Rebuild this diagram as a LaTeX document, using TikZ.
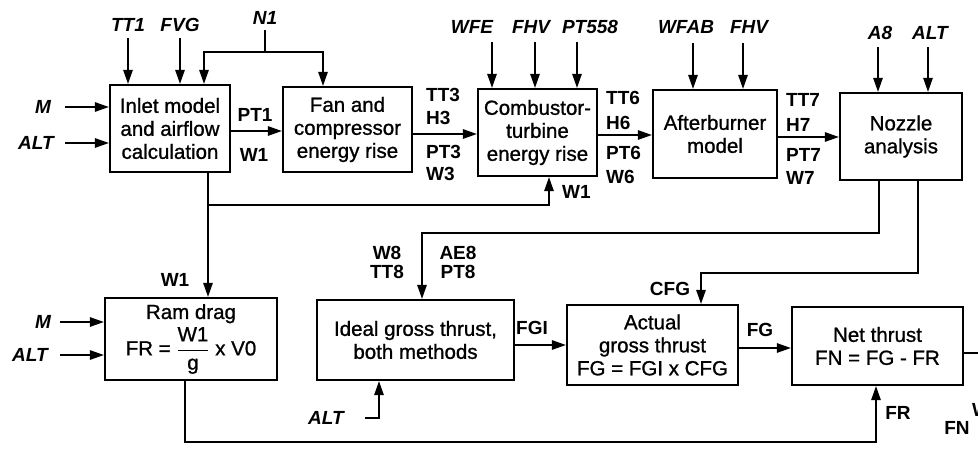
\documentclass[tikz,border=0pt]{standalone}
\usepackage{fontspec}
\setmainfont{Liberation Sans}
\newfontfamily\boxfont[FakeBold=1]{Liberation Sans}
\usetikzlibrary{arrows.meta}
\begin{document}
\begin{tikzpicture}[x=1pt,y=-1pt,
  box/.style={draw, line width=2.3pt, align=center, inner sep=0pt, font=\boxfont\fontsize{20.5}{23}\selectfont},
  lbl/.style={font=\fontsize{19}{20}\selectfont\bfseries, inner sep=0pt},
  ilbl/.style={font=\fontsize{19}{20}\selectfont\bfseries\itshape, inner sep=0pt},
  conn/.style={line width=1.4pt},
  arr/.style={conn, -{Triangle[length=14pt,width=9.5pt]}}]
\useasboundingbox (0,0) rectangle (978,448);
\clip (0,0) rectangle (978,448);

% boxes
\node[box, minimum width=120pt, minimum height=87pt] (inlet) at (170,128.5) {Inlet model\\and airflow\\calculation};
\node[box, minimum width=129pt, minimum height=85pt] (fan) at (347.5,129.5) {Fan and\\compressor\\energy rise};
\node[box, minimum width=119pt, minimum height=87pt] (comb) at (537.5,132.5) {Combustor-\\turbine\\energy rise};
\node[box, minimum width=124pt, minimum height=88pt] (ab) at (715,134) {Afterburner\\model};
\node[box, minimum width=122pt, minimum height=87pt] (noz) at (901,136.5) {Nozzle\\analysis};
\node[box, minimum width=172pt, minimum height=82pt] (ram) at (191,339) {Ram drag\\[3pt]FR = $\displaystyle\frac{\mbox{W1}}{\mbox{g}}$ x V0};
\node[box, minimum width=197pt, minimum height=80pt] (ideal) at (415.5,340) {Ideal gross thrust,\\both methods};
\node[box, minimum width=171pt, minimum height=80pt] (act) at (652.5,345) {Actual\\gross thrust\\FG = FGI x CFG};
\node[box, minimum width=171pt, minimum height=78pt] (net) at (877.5,346) {Net thrust\\FN = FG - FR};

% input labels
\node[ilbl] (tt1l) at (128,25) {TT1};
\node[ilbl] (fvgl) at (180,25) {FVG};
\node[ilbl] (n1l) at (265,18) {N1};
\node[ilbl] (wfel) at (472,27) {WFE};
\node[ilbl] (fhvl) at (531,27) {FHV};
\node[ilbl] (ptl) at (590,27) {PT558};
\node[ilbl] (wfabl) at (686,27) {WFAB};
\node[ilbl] (fhv2l) at (749,27) {FHV};
\node[ilbl] (a8l) at (880,33) {A8};
\node[ilbl] (alt3l) at (930,33) {ALT};
\node[ilbl] (m1l) at (43,107) {M};
\node[ilbl] (alt1l) at (36,143) {ALT};
\node[ilbl] (m2l) at (43,322) {M};
\node[ilbl] (alt2l) at (30,355) {ALT};
\node[ilbl] (alt4l) at (326,418) {ALT};

% signal labels
\node[lbl] (pt1) at (255,115) {PT1};
\node[lbl] (w1a) at (254,155) {W1};
\node[lbl, anchor=west] (tt3) at (426,95) {TT3};
\node[lbl, anchor=west] (h3) at (426,118) {H3};
\node[lbl, anchor=west] (pt3) at (426,152) {PT3};
\node[lbl, anchor=west] (w3) at (426,174) {W3};
\node[lbl, anchor=west] (tt6) at (606,98) {TT6};
\node[lbl, anchor=west] (h6) at (606,123) {H6};
\node[lbl, anchor=west] (pt6) at (606,153) {PT6};
\node[lbl, anchor=west] (w6) at (606,177) {W6};
\node[lbl, anchor=west] (tt7) at (786,100) {TT7};
\node[lbl, anchor=west] (h7) at (786,125) {H7};
\node[lbl, anchor=west] (pt7) at (786,155) {PT7};
\node[lbl, anchor=west] (w7) at (786,178) {W7};
\node[lbl, anchor=west] (w1b) at (562,192) {W1};
\node[lbl] (w1c) at (175,280) {W1};
\node[lbl] (w8) at (387,253) {W8};
\node[lbl] (tt8) at (387,272) {TT8};
\node[lbl] (ae8) at (458,253) {AE8};
\node[lbl] (pt8) at (458,272) {PT8};
\node[lbl] (fgi) at (532,328) {FGI};
\node[lbl] (cfg) at (670,289) {CFG};
\node[lbl] (fg) at (760,330) {FG};
\node[lbl] (fr) at (898,413) {FR};
\node[lbl] (fn) at (957,428) {FN};
\node[lbl, anchor=west] (wcut) at (972,410) {W};

% free ends and junctions
\coordinate (tt1) at (128,38);
\coordinate (fvg) at (180,38);
\coordinate (n1) at (265,30);
\coordinate (n1j) at (265,52);
\coordinate (n1a) at (204,52);
\coordinate (n1b) at (323,52);
\coordinate (wfe) at (492,42);
\coordinate (fhv) at (535,42);
\coordinate (pt558) at (577,42);
\coordinate (wfab) at (693,43);
\coordinate (fhv2) at (743,43);
\coordinate (a8) at (878,47);
\coordinate (alt3) at (928,47);
\coordinate (m1) at (65,107);
\coordinate (alt1) at (65,143);
\coordinate (m2) at (60,322);
\coordinate (alt2) at (60,355);
\coordinate (alt4) at (365,418);
\coordinate (alt4c) at (379,418);
\coordinate (j1) at (208,205);
\coordinate (j1b) at (549,205);
\coordinate (nz1) at (879,233);
\coordinate (nz1b) at (422,233);
\coordinate (nz2) at (918,273);
\coordinate (nz2b) at (701,273);
\coordinate (rb1) at (185,442);
\coordinate (rb2) at (876,442);
\coordinate (out) at (980,353);

% top and side inputs
\draw[arr] (tt1) -- (tt1 |- inlet.north);
\draw[arr] (fvg) -- (fvg |- inlet.north);
\draw[conn] (n1) -- (n1j);
\draw[arr] (n1j) -- (n1a) -- (n1a |- inlet.north);
\draw[arr] (n1j) -- (n1b) -- (n1b |- fan.north);
\draw[arr] (wfe) -- (wfe |- comb.north);
\draw[arr] (fhv) -- (fhv |- comb.north);
\draw[arr] (pt558) -- (pt558 |- comb.north);
\draw[arr] (wfab) -- (wfab |- ab.north);
\draw[arr] (fhv2) -- (fhv2 |- ab.north);
\draw[arr] (a8) -- (a8 |- noz.north);
\draw[arr] (alt3) -- (alt3 |- noz.north);
\draw[arr] (m1) -- (m1 -| inlet.west);
\draw[arr] (alt1) -- (alt1 -| inlet.west);
\draw[arr] (m2) -- (m2 -| ram.west);
\draw[arr] (alt2) -- (alt2 -| ram.west);
\draw[arr] (alt4) -- (alt4c) -- (alt4c |- ideal.south);

% main chain
\draw[arr] (inlet.east |- 0,131) -- (fan.west |- 0,131);
\draw[arr] (fan.east |- 0,134) -- (comb.west |- 0,134);
\draw[arr] (comb.east |- 0,135) -- (ab.west |- 0,135);
\draw[arr] (ab.east |- 0,137) -- (noz.west |- 0,137);

% W1 branches
\draw[arr] (j1 |- inlet.south) -- (j1 |- ram.north);
\draw[arr] (j1) -- (j1b) -- (j1b |- comb.south);

% nozzle outputs
\draw[arr] (nz1 |- noz.south) -- (nz1) -- (nz1b) -- (nz1b |- ideal.north);
\draw[arr] (nz2 |- noz.south) -- (nz2) -- (nz2b) -- (nz2b |- act.north);

% thrust chain
\draw[arr] (ideal.east |- 0,345) -- (act.west |- 0,345);
\draw[arr] (act.east |- 0,348) -- (net.west |- 0,348);
\draw[conn] (net.east |- out) -- (out);
\draw[arr] (rb1 |- ram.south) -- (rb1) -- (rb2) -- (rb2 |- net.south);
\end{tikzpicture}
\end{document}
